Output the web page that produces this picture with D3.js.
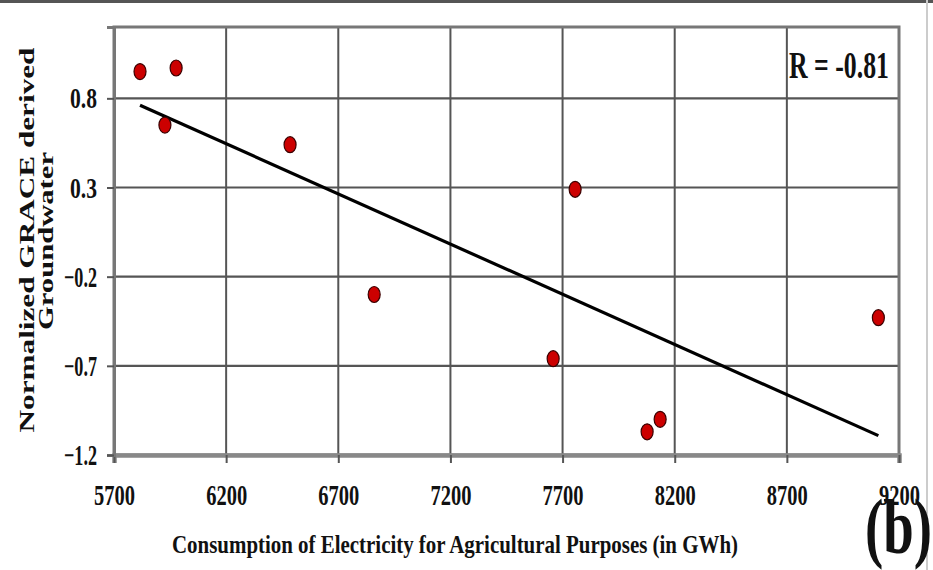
<!DOCTYPE html>
<html>
<head>
<meta charset="utf-8">
<script src="https://cdn.jsdelivr.net/npm/d3@7"></script>
<style>
  html, body { margin: 0; padding: 0; background: #fff; }
  svg { display: block; }
  text { font-family: "Liberation Serif", "Times New Roman", serif; font-weight: bold; fill: #111; }
</style>
</head>
<body>
<svg id="chart" width="933" height="570"></svg>
<script>
// ---- data ----
const electricity = [5816, 5977, 5927, 6485, 6860, 7756, 7658, 8077, 8135, 9108];
const groundwater = [0.95, 0.97, 0.65, 0.54, -0.30, 0.29, -0.66, -1.07, -1.00, -0.43];
const xTicks = [5700, 6200, 6700, 7200, 7700, 8200, 8700, 9200];
const yTicks = [-1.2, -0.7, -0.2, 0.3, 0.8];
const xDomain = [5700, 9200];
const yDomain = [-1.2, 1.2];
const rLabel = "R = -0.81";
const xTitle = "Consumption of Electricity for Agricultural Purposes (in GWh)";
const yTitle1 = "Normalized GRACE derived";
const yTitle2 = "Groundwater";
const panelLabel = "(b)";

const svg = d3.select("#chart");
const L = 114, R = 899, T = 27, B = 455;
const x = d3.scaleLinear().domain(xDomain).range([L, R]);
const y = d3.scaleLinear().domain(yDomain).range([B, T]);

// outer frame lines of the picture
svg.append("line").attr("x1", 0).attr("x2", 933).attr("y1", 1.5).attr("y2", 1.5)
  .attr("stroke", "#555").attr("stroke-width", 3);
svg.append("line").attr("x1", 927).attr("x2", 927).attr("y1", 0).attr("y2", 570)
  .attr("stroke", "#ccc").attr("stroke-width", 2);

// gridlines
svg.append("g").selectAll("line").data(xTicks.slice(1, -1)).join("line")
  .attr("x1", d => x(d)).attr("x2", d => x(d)).attr("y1", T).attr("y2", B)
  .attr("stroke", "#555").attr("stroke-width", 2);
svg.append("g").selectAll("line").data(yTicks.slice(1)).join("line")
  .attr("x1", L).attr("x2", R).attr("y1", d => y(d)).attr("y2", d => y(d))
  .attr("stroke", "#555").attr("stroke-width", 2.2);

// plot frame
svg.append("rect").attr("x", L).attr("y", T).attr("width", R - L).attr("height", B - T)
  .attr("fill", "none").attr("stroke", "#777").attr("stroke-width", 3);

// x axis
const gx = svg.append("g").attr("transform", `translate(0,${B})`)
  .call(d3.axisBottom(x).tickValues(xTicks).tickSize(8).tickFormat(d3.format("d")));
gx.select(".domain").attr("stroke", "#888").attr("stroke-width", 4.5);
gx.selectAll(".tick line").attr("stroke", "#555").attr("stroke-width", 2);
gx.selectAll(".tick text")
  .attr("y", 50).attr("dy", 0)
  .attr("font-size", 29).attr("fill", "#111")
  .attr("font-family", "Liberation Serif, Times New Roman, serif").attr("font-weight", "bold")
  .attr("textLength", 41).attr("lengthAdjust", "spacingAndGlyphs");

// y axis
const gy = svg.append("g").attr("transform", `translate(${L},0)`)
  .call(d3.axisLeft(y).tickValues(yTicks).tickSize(7).tickPadding(10).tickFormat(d3.format(".1f")));
gy.select(".domain").attr("stroke", "#777").attr("stroke-width", 3);
gy.selectAll(".tick line").attr("stroke", "#555").attr("stroke-width", 2);
gy.selectAll(".tick text")
  .attr("dy", "0.33em")
  .attr("font-size", 29).attr("fill", "#111")
  .attr("font-family", "Liberation Serif, Times New Roman, serif").attr("font-weight", "bold")
  .attr("textLength", d => d < 0 ? 33 : 27).attr("lengthAdjust", "spacingAndGlyphs");

// regression line (least squares from the data)
const n = electricity.length;
const mx = d3.mean(electricity), my = d3.mean(groundwater);
let sxy = 0, sxx = 0;
for (let i = 0; i < n; i++) {
  sxy += (electricity[i] - mx) * (groundwater[i] - my);
  sxx += (electricity[i] - mx) ** 2;
}
const slope = sxy / sxx, icpt = my - slope * mx;
const ext = d3.extent(electricity);
svg.append("line")
  .attr("x1", x(ext[0])).attr("y1", y(icpt + slope * ext[0]))
  .attr("x2", x(ext[1])).attr("y2", y(icpt + slope * ext[1]))
  .attr("stroke", "#000").attr("stroke-width", 3.2);

// points
svg.append("g").selectAll("ellipse").data(electricity.map((e, i) => [e, groundwater[i]])).join("ellipse")
  .attr("cx", d => x(d[0])).attr("cy", d => y(d[1]))
  .attr("rx", 6).attr("ry", 8)
  .attr("fill", "#cc0000").attr("stroke", "#3a0000").attr("stroke-width", 1.2);

// R label
svg.append("text").attr("x", 789).attr("y", 78)
  .attr("font-size", 38).attr("textLength", 100).attr("lengthAdjust", "spacingAndGlyphs")
  .text(rLabel);

// axis titles
svg.append("text").attr("x", 455).attr("y", 553).attr("text-anchor", "middle")
  .attr("font-size", 25).attr("textLength", 566).attr("lengthAdjust", "spacingAndGlyphs")
  .text(xTitle);
svg.append("text").attr("transform", "translate(34,240) rotate(-90)").attr("text-anchor", "middle")
  .attr("font-size", 20).attr("textLength", 385).attr("lengthAdjust", "spacingAndGlyphs")
  .text(yTitle1);
svg.append("text").attr("transform", "translate(53,241) rotate(-90)").attr("text-anchor", "middle")
  .attr("font-size", 20).attr("textLength", 178).attr("lengthAdjust", "spacingAndGlyphs")
  .text(yTitle2);

// panel label
svg.append("text").attr("x", 865).attr("y", 553)
  .attr("font-size", 78).attr("textLength", 67).attr("lengthAdjust", "spacingAndGlyphs")
  .text(panelLabel);
</script>
</body>
</html>
